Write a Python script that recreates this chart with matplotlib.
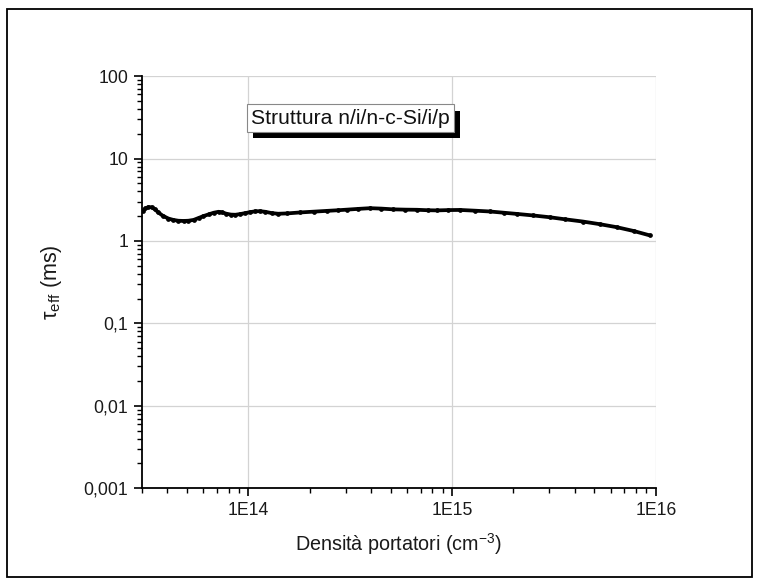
import matplotlib
matplotlib.use("Agg")
import matplotlib.pyplot as plt
import matplotlib.ticker as mticker
import matplotlib.patheffects as pe
from matplotlib.patches import Rectangle

plt.rcParams["font.family"] = ["Liberation Sans", "DejaVu Sans"]
plt.rcParams["mathtext.fontset"] = "custom"
plt.rcParams["mathtext.rm"] = "Liberation Sans"
plt.rcParams["mathtext.it"] = "Liberation Sans:italic"

# Injected carrier density (cm^-3) and effective lifetime (ms)
density = [3.02e13, 3.12e13, 3.23e13, 3.35e13, 3.48e13, 3.61e13, 3.80e13, 4.05e13,
           4.28e13, 4.53e13, 4.80e13, 5.07e13, 5.38e13, 5.69e13, 6.00e13, 6.37e13,
           6.75e13, 7.13e13, 7.45e13, 7.80e13, 8.20e13, 8.63e13, 9.10e13, 9.66e13,
           1.02e14, 1.08e14, 1.14e14, 1.21e14, 1.30e14, 1.40e14, 1.55e14, 1.80e14,
           2.10e14, 2.44e14, 2.75e14, 3.05e14, 3.45e14, 3.96e14, 4.50e14, 5.13e14,
           5.90e14, 6.73e14, 7.60e14, 8.43e14, 9.60e14, 1.09e15, 1.30e15, 1.53e15,
           1.80e15, 2.08e15, 2.50e15, 3.02e15, 3.60e15, 4.39e15, 5.30e15, 6.43e15,
           7.80e15, 9.33e15]
tau_eff = [2.31, 2.48, 2.58, 2.56, 2.42, 2.22, 2.02, 1.87,
           1.80, 1.76, 1.75, 1.76, 1.80, 1.90, 2.00, 2.10,
           2.20, 2.26, 2.22, 2.14, 2.09, 2.08, 2.12, 2.18,
           2.24, 2.29, 2.30, 2.26, 2.18, 2.14, 2.16, 2.22,
           2.27, 2.32, 2.36, 2.40, 2.45, 2.50, 2.47, 2.42,
           2.40, 2.39, 2.36, 2.35, 2.37, 2.38, 2.33, 2.28,
           2.20, 2.13, 2.04, 1.94, 1.83, 1.72, 1.60, 1.47,
           1.32, 1.17]

x_ticks = [1e14, 1e15, 1e16]
x_tick_labels = ["1E14", "1E15", "1E16"]
y_ticks = [0.001, 0.01, 0.1, 1, 10, 100]
y_tick_labels = ["0,001", "0,01", "0,1", "1", "10", "100"]

fig = plt.figure(figsize=(7.59, 5.86), dpi=100)
fig.patches.append(Rectangle((0.0092, 0.0154), 0.9816, 0.969, transform=fig.transFigure,
                             fill=False, edgecolor="black", linewidth=1.3))

ax = fig.add_axes([0.187, 0.167, 0.677, 0.703])
ax.set_xscale("log")
ax.set_yscale("log")
ax.set_xlim(3.0e13, 1e16)
ax.set_ylim(0.001, 100)

ax.plot(density, tau_eff, color="black", linewidth=2.7, marker="o", markersize=2.4,
        solid_capstyle="round", solid_joinstyle="round")

ax.set_xticks(x_ticks)
ax.set_xticklabels(x_tick_labels)
ax.set_yticks(y_ticks)
ax.set_yticklabels(y_tick_labels)
ax.xaxis.set_minor_locator(mticker.LogLocator(base=10, subs=range(2, 10), numticks=20))
ax.yaxis.set_minor_locator(mticker.LogLocator(base=10, subs=range(2, 10), numticks=20))
ax.xaxis.set_minor_formatter(mticker.NullFormatter())
ax.yaxis.set_minor_formatter(mticker.NullFormatter())

ax.tick_params(which="major", direction="out", length=6, width=1.2, labelsize=12.7,
               pad=4, labelcolor="#1a1a1a")
ax.tick_params(which="minor", direction="out", length=3.5, width=1.0)
for side in ("top", "right"):
    ax.spines[side].set_visible(False)
for side in ("left", "bottom"):
    ax.spines[side].set_linewidth(1.3)

ax.grid(True, which="major", color="#d3d3d3", linewidth=0.9)
ax.set_axisbelow(True)

ax.set_xlabel(r"Densità portatori (cm$^{\mathregular{-3}}$)", fontsize=14.2, labelpad=9,
              color="#1a1a1a")
ax.set_ylabel(r"$\mathregular{τ_{eff}}$ (ms)", fontsize=15.5, labelpad=14,
              color="#1a1a1a")

# Label box with a solid drop shadow
label = ax.text(0.406, 0.898, "Struttura n/i/n-c-Si/i/p", transform=ax.transAxes,
                fontsize=15.2, color="#111111", ha="center", va="center",
                bbox=dict(boxstyle="square,pad=0.2", facecolor="white",
                          edgecolor="#888888", linewidth=0.8))
label.get_bbox_patch().set_path_effects([
    pe.SimplePatchShadow(offset=(4.5, -4.5), shadow_rgbFace="black", alpha=1.0),
    pe.Normal(),
])

fig.savefig("out.png", dpi=100)
